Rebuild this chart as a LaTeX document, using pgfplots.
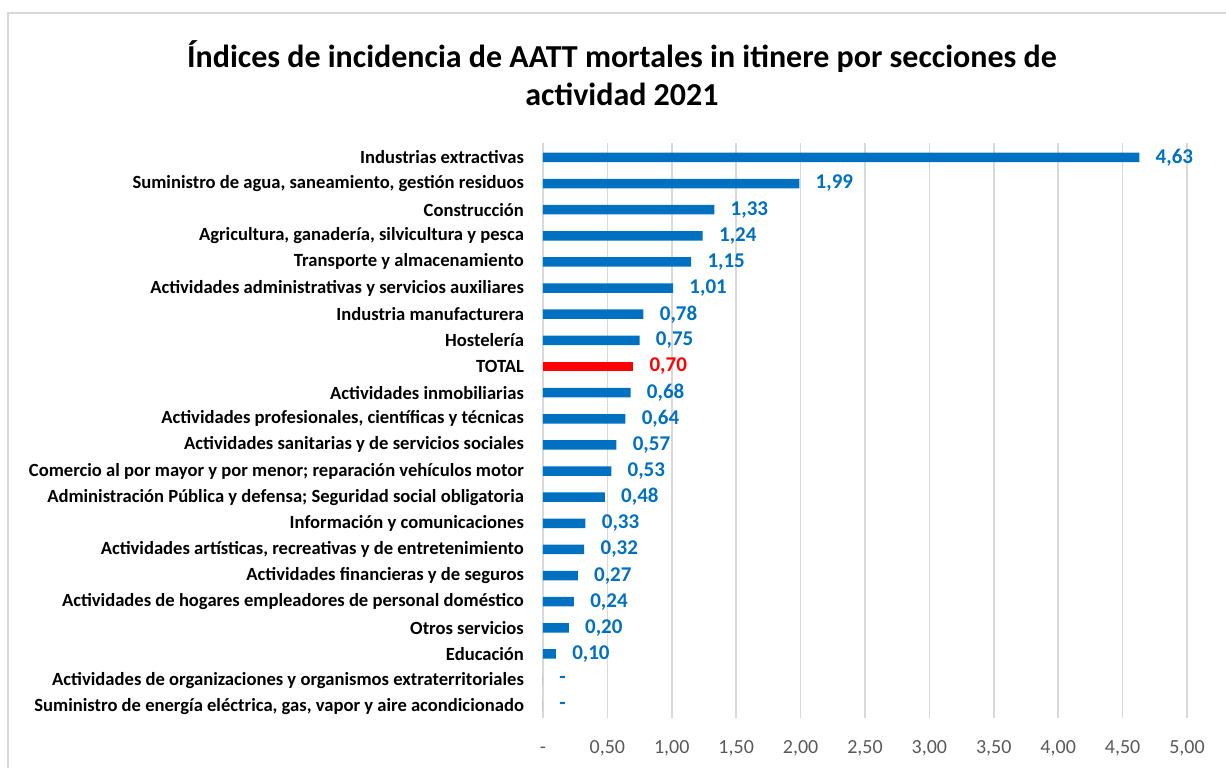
\documentclass[border=0pt]{standalone}
\usepackage{fontspec}
\setmainfont{Carlito}
\usepackage{pgfplots}
\usepackage{pgfplotstable}
\pgfplotsset{compat=1.18}
\definecolor{barblue}{HTML}{0070C0}
\definecolor{gridgray}{HTML}{D9D9D9}
\definecolor{ticgray}{HTML}{595959}
\pgfplotstableread{
y x lab
0 4.63 4,63
1 1.99 1,99
2 1.33 1,33
3 1.24 1,24
4 1.15 1,15
5 1.01 1,01
6 0.78 0,78
7 0.75 0,75
9 0.68 0,68
10 0.64 0,64
11 0.57 0,57
12 0.53 0,53
13 0.48 0,48
14 0.33 0,33
15 0.32 0,32
16 0.27 0,27
17 0.24 0,24
18 0.20 0,20
19 0.10 0,10
20 0 -
21 0 -
}\datablue
\pgfplotstableread{
y x lab
8 0.70 0,70
}\datared
\begin{document}
\begin{tikzpicture}
\path[use as bounding box] (-271.5pt,-24.5pt) rectangle (341.5pt,359pt);
\draw[gridgray, line width=0.8pt] (-267.5pt,-25pt) -- (-267.5pt,352.5pt) -- (342pt,352.5pt);
\node[align=center, font=\bfseries\fontsize{16}{19}\selectfont] at (39.5pt,322.5pt)
  {Índices de incidencia de AATT mortales in itinere por secciones de\\actividad 2021};
\begin{axis}[
  at={(0,0)}, anchor=south west,
  scale only axis, width=322pt, height=287.5pt,
  xmin=0, xmax=5, ymin=-0.55, ymax=21.45, y dir=reverse,
  xtick={0,0.5,1,1.5,2,2.5,3,3.5,4,4.5,5},
  xticklabels={-,{0,50},{1,00},{1,50},{2,00},{2,50},{3,00},{3,50},{4,00},{4,50},{5,00}},
  ytick={0,...,21},
  yticklabels={
    Industrias extractivas,
    {Suministro de agua, saneamiento, gestión residuos},
    Construcción,
    {Agricultura, ganadería, silvicultura y pesca},
    Transporte y almacenamiento,
    Actividades administrativas y servicios auxiliares,
    Industria manufacturera,
    Hostelería,
    TOTAL,
    Actividades inmobiliarias,
    {Actividades profesionales, científicas y técnicas},
    Actividades sanitarias y de servicios sociales,
    Comercio al por mayor y por menor; reparación vehículos motor,
    Administración Pública y defensa; Seguridad social obligatoria,
    Información y comunicaciones,
    {Actividades artísticas, recreativas y de entretenimiento},
    Actividades financieras y de seguros,
    Actividades de hogares empleadores de personal doméstico,
    Otros servicios,
    Educación,
    Actividades de organizaciones y organismos extraterritoriales,
    {Suministro de energía eléctrica, gas, vapor y aire acondicionado}},
  xmajorgrids, grid style={gridgray, line width=0.8pt},
  axis line style={draw=none},
  major tick length=0pt,
  xticklabel style={font=\fontsize{10}{12}\selectfont, text=ticgray, yshift=-7pt,
    text height=7pt, text depth=2pt},
  yticklabel style={font=\bfseries\fontsize{9.3}{11}\selectfont, text=black, xshift=-6pt},
  clip=false,
]
\addplot[xbar, fill=barblue, draw=none, bar width=4.75pt, bar shift=0pt,
  point meta=explicit symbolic, nodes near coords,
  nodes near coords style={anchor=west, inner sep=0pt, xshift=8pt, text=barblue,
    font=\bfseries\fontsize{10.5}{12}\selectfont}]
  table[x=x, y=y, meta=lab]{\datablue};
\addplot[xbar, fill=red, draw=none, bar width=4.75pt, bar shift=0pt,
  point meta=explicit symbolic, nodes near coords,
  nodes near coords style={anchor=west, inner sep=0pt, xshift=8pt, text=red,
    font=\bfseries\fontsize{10.5}{12}\selectfont}]
  table[x=x, y=y, meta=lab]{\datared};
\end{axis}
\end{tikzpicture}
\end{document}
